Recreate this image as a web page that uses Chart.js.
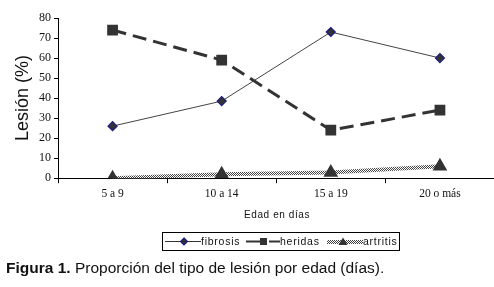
<!DOCTYPE html>
<html>
<head>
<meta charset="utf-8">
<script src="https://cdn.jsdelivr.net/npm/chart.js@4"></script>
<style>
  body { margin: 0; background: #fff; width: 494px; height: 287px; position: relative; overflow: hidden; }
  #wrap { position: absolute; left: 0; top: 0; width: 503px; height: 228px; }
  .sans { font-family: "Liberation Sans", Arial, sans-serif; color: #111; white-space: nowrap; }
  #xtitle { position: absolute; left: 244px; top: 209px; font-size: 10px; letter-spacing: 0.6px; }
  #legend { position: absolute; left: 162px; top: 232px; width: 236px; height: 17px; border: 1px solid #000;
    font-size: 10.5px; letter-spacing: 0.75px; line-height: 17px; }
  #legend span, #legend svg { position: absolute; top: 0; display: block; }
  #caption { position: absolute; left: 6px; top: 259px; font-size: 15.5px; }
</style>
</head>
<body>
<div id="wrap"><canvas id="chart"></canvas></div>
<div id="xtitle" class="sans">Edad en días</div>
<div id="legend" class="sans">
  <svg style="left:2px" width="36" height="17"><line x1="0" y1="8.5" x2="36" y2="8.5" stroke="#333" stroke-width="1"/><polygon points="19,5 22.5,8.5 19,12 15.5,8.5" fill="#333" stroke="#1a1a80" stroke-width="1.2"/></svg>
  <span style="left:38px">fibrosis</span>
  <svg style="left:83px" width="34" height="17"><line x1="0" y1="8.5" x2="15" y2="8.5" stroke="#333" stroke-width="2"/><rect x="14" y="5" width="7" height="7" fill="#333"/><line x1="23" y1="8.5" x2="34" y2="8.5" stroke="#333" stroke-width="2"/></svg>
  <span style="left:117px">heridas</span>
  <svg style="left:164px" width="36" height="17"><defs><pattern id="chk" width="2" height="2" patternUnits="userSpaceOnUse"><rect width="2" height="2" fill="#fff"/><rect width="1" height="1" fill="#444"/><rect x="1" y="1" width="1" height="1" fill="#444"/></pattern></defs><rect x="0" y="7" width="36" height="4" fill="url(#chk)"/><polygon points="16,4.5 20.5,12 11.5,12" fill="#333"/></svg>
  <span style="left:200px">artritis</span>
</div>
<div id="caption" class="sans"><b>Figura 1.</b> Proporción del tipo de lesión por edad (días).</div>
<script>
const categories = ['5 a 9', '10 a 14', '15 a 19', '20 o más']
const fibrosis = [26, 38.5, 73, 60]
const heridas = [74, 59, 24, 34]
const artritis = [0, 2, 2.8, 6]
const yTicks = [0, 10, 20, 30, 40, 50, 60, 70, 80]

// checkered pattern for the artritis line
function checker() {
    const c = document.createElement('canvas')
    c.width = 2
    c.height = 2
    const g = c.getContext('2d')
    g.fillStyle = '#fff'
    g.fillRect(0, 0, 2, 2)
    g.fillStyle = '#444'
    g.fillRect(0, 0, 1, 1)
    g.fillRect(1, 1, 1, 1)
    return g.createPattern(c, 'repeat')
}

const ctx = document.getElementById('chart').getContext('2d')
const serif = '"Liberation Serif", "Times New Roman", serif'
const sans = '"Liberation Sans", Arial, sans-serif'

new Chart(ctx, {
    type: 'line',
    data: {
        labels: categories,
        datasets: [{
                label: 'artritis',
                data: artritis,
                borderColor: checker(),
                borderWidth: 4,
                pointStyle: 'triangle',
                pointRadius: 4.5,
                pointBackgroundColor: '#333',
                pointBorderColor: '#333',
                tension: 0
            },
            {
                label: 'heridas',
                data: heridas,
                borderColor: '#333',
                borderWidth: 3,
                borderDash: [14, 7],
                pointStyle: 'rect',
                pointRadius: 5.5,
                pointBackgroundColor: '#333',
                pointBorderColor: '#333',
                tension: 0
            },
            {
                label: 'fibrosis',
                data: fibrosis,
                borderColor: '#444',
                borderWidth: 1,
                pointStyle: 'rectRot',
                pointRadius: 4.5,
                pointBackgroundColor: '#333',
                pointBorderColor: '#1a1a80',
                pointBorderWidth: 1.2,
                tension: 0
            }
        ]
    },
    options: {
        responsive: true,
        maintainAspectRatio: false,
        animation: false,
        layout: { padding: { top: 18, right: 0, left: 0, bottom: 23 } },
        plugins: {
            legend: { display: false },
            tooltip: { enabled: false }
        },
        scales: {
            x: {
                offset: true,
                grid: { display: true, drawOnChartArea: false, offset: true, tickLength: 5, color: '#000' },
                border: { color: '#000', width: 1 },
                ticks: { color: '#111', font: { family: serif, size: 11.5 }, padding: 4 }
            },
            y: {
                min: 0,
                max: 80,
                afterFit: function(scale) { scale.width = 58 },
                afterBuildTicks: function(scale) { scale.ticks = yTicks.map(v => ({ value: v })) },
                grid: { display: true, drawOnChartArea: false, tickLength: 4, color: '#000' },
                border: { color: '#000', width: 1 },
                ticks: { color: '#111', font: { family: serif, size: 12 }, padding: 3 },
                title: {
                    display: true,
                    text: 'Lesión (%)',
                    color: '#111',
                    font: { family: sans, size: 18 },
                    padding: { top: 12, bottom: 0 }
                }
            }
        }
    }
})
</script>
</body>
</html>
